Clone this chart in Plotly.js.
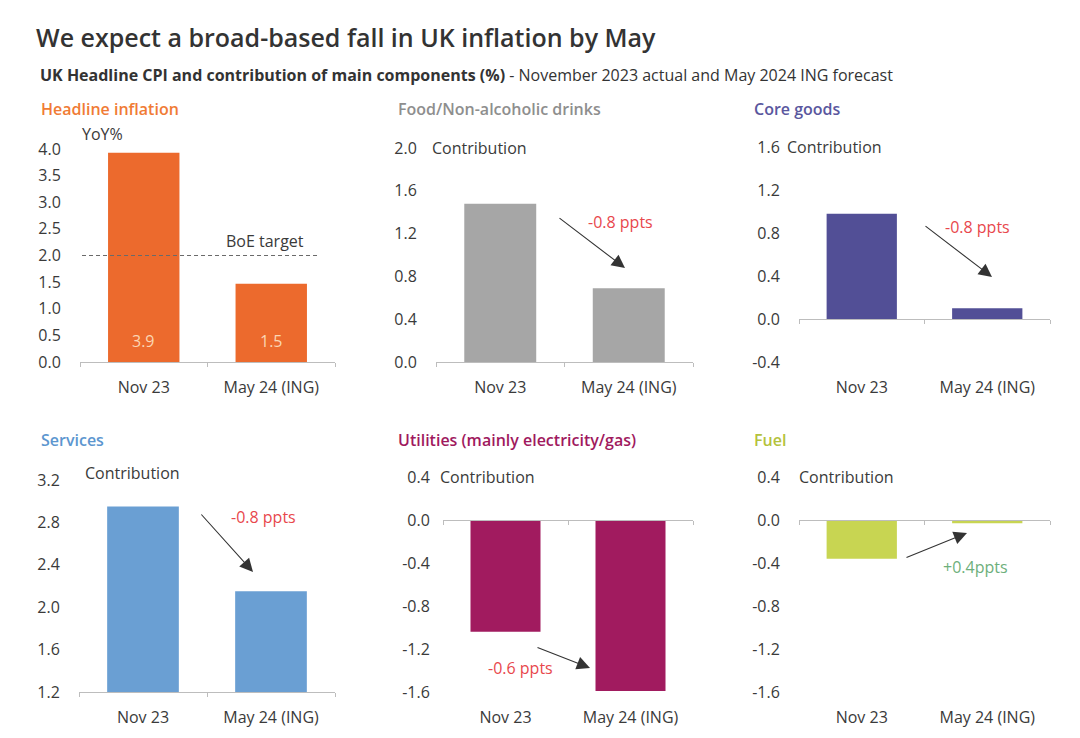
<!DOCTYPE html>
<html><head><meta charset="utf-8">
<script src="https://cdn.plot.ly/plotly-3.0.1.min.js"></script>
<style>html,body{margin:0;padding:0;background:#fff}#chart{width:1080px;height:738px}</style>
</head><body><div id="chart"></div>
<script>
// ---- data ----
const categories = ['Nov 23', 'May 24 (ING)'];
const headline = [3.93, 1.47];
const food = [1.48, 0.69];
const coreGoods = [0.98, 0.10];
const services = [2.95, 2.15];
const utilities = [-1.04, -1.59];
const fuel = [-0.36, -0.03];
const boeTarget = 2.0;
const panelTitles = ['Headline inflation', 'Food/Non-alcoholic drinks', 'Core goods', 'Services', 'Utilities (mainly electricity/gas)', 'Fuel'];
const changeLabels = ['-0.8 ppts', '-0.8 ppts', '-0.8 ppts', '-0.6 ppts', '+0.4ppts'];

// ---- layout helpers ----
const W = 1080, H = 738;
const PX = x => x / W, PY = y => 1 - y / H;
const FONT = '"Open Sans", "Noto Sans", sans-serif';
const TXT = '#3a3a3a';

const panels = [
  {values: headline, bar: '#EC6A2D', tcol: '#F07B35', xd: [80, 335], yd: [149, 362], range: [0, 4], dtick: 0.5, cross: 0, tx: 39, ty: 109, unit: 'YoY%', ux: 80, uy: 134, standoff: 15},
  {values: food, bar: '#A6A6A6', tcol: '#8E8E8E', xd: [436, 693], yd: [148, 362], range: [0, 2], dtick: 0.4, cross: 0, tx: 396, ty: 109, unit: 'Contribution', ux: 430, uy: 148, standoff: 15},
  {values: coreGoods, bar: '#524F96', tcol: '#5A579E', xd: [799, 1050], yd: [147, 362], range: [-0.4, 1.6], dtick: 0.4, cross: 0, tx: 752, ty: 109, unit: 'Contribution', ux: 785, uy: 147, standoff: 15},
  {values: services, bar: '#6A9FD3', tcol: '#5C96CF', xd: [79, 335], yd: [480, 692], range: [1.2, 3.2], dtick: 0.4, cross: 1.2, tx: 39, ty: 440, unit: 'Contribution', ux: 83, uy: 473, standoff: 15},
  {values: utilities, bar: '#A11B5F', tcol: '#A0195E', xd: [443, 693], yd: [477, 692], range: [-1.6, 0.4], dtick: 0.4, cross: 0, tx: 396, ty: 440, unit: 'Contribution', ux: 438, uy: 477, standoff: 9},
  {values: fuel, bar: '#C8D552', tcol: '#B4C23C', xd: [799, 1050], yd: [477, 692], range: [-1.6, 0.4], dtick: 0.4, cross: 0, tx: 752, ty: 440, unit: 'Contribution', ux: 797, uy: 477, standoff: 15}
];

const arrows = [
  {head: [625, 268], tail: [558, 217], label: [620, 222], color: '#E8474C'},
  {head: [992, 277], tail: [924, 225], label: [977, 227], color: '#E8474C'},
  {head: [253, 572], tail: [200, 513], label: [263, 517], color: '#E8474C'},
  {head: [590, 668], tail: [536, 647], label: [520, 668], color: '#E8474C'},
  {head: [967, 533], tail: [905, 558], label: [975, 567], color: '#6DAF7B'}
];

const data = [];
const annotations = [];
const shapes = [];
const layout = {
  width: W, height: H,
  margin: {l: 0, r: 0, t: 0, b: 0},
  paper_bgcolor: '#fff', plot_bgcolor: 'rgba(0,0,0,0)',
  bargap: 0.44,
  showlegend: false,
  font: {family: FONT, color: TXT, size: 16},
  title: {
    text: 'We expect a broad-based fall in UK inflation by May',
    x: PX(36), xref: 'paper', xanchor: 'left',
    y: PY(38), yref: 'paper', yanchor: 'middle',
    font: {family: FONT, size: 25, color: '#333', weight: 600}
  }
};

function tickList(r, d) {
  const vals = [];
  const steps = Math.round((r[1] - r[0]) / d);
  for (let k = 0; k <= steps; k++) vals.push(+(r[0] + k * d).toFixed(4));
  return vals;
}

const eps = 1e-6;
panels.forEach((p, i) => {
  const n = i + 1;
  const sfx = n === 1 ? '' : String(n);
  const xa = 'x' + sfx, ya = 'y' + sfx;
  const yDom = [PY(p.yd[1]), PY(p.yd[0])];
  const tv = tickList(p.range, p.dtick);
  data.push({type: 'bar', x: categories, y: p.values, xaxis: xa, yaxis: ya,
    marker: {color: p.bar, line: {width: 0}}, hoverinfo: 'skip', showlegend: false});
  layout['xaxis' + sfx] = {
    domain: [PX(p.xd[0]), PX(p.xd[1])], anchor: ya, type: 'category',
    categoryorder: 'array', categoryarray: categories, range: [-0.5, 1.5],
    showline: false, showgrid: false, zeroline: false,
    ticks: 'outside', ticklen: 11, tickcolor: 'rgba(0,0,0,0)',
    tickfont: {family: FONT, size: 16, color: TXT}, fixedrange: true
  };
  layout['yaxis' + sfx] = {
    domain: yDom, anchor: xa,
    range: [p.range[0] - eps, p.range[1] + eps],
    tickmode: 'array', tickvals: tv, ticktext: tv.map(v => v.toFixed(1)),
    showgrid: false, zeroline: false, showline: false,
    ticks: 'outside', ticklen: p.standoff, tickcolor: 'rgba(0,0,0,0)',
    tickfont: {family: FONT, size: 16, color: TXT}, fixedrange: true
  };
  // axis line crossing at p.cross with boundary tick marks
  const on = n + 6;
  const pos = yDom[0] + (p.cross - p.range[0]) / (p.range[1] - p.range[0]) * (yDom[1] - yDom[0]);
  layout['xaxis' + on] = {
    overlaying: xa, anchor: 'free', position: pos, type: 'linear', range: [-0.5, 1.5],
    tickmode: 'array', tickvals: [-0.5, 0.5, 1.5], ticks: 'outside', ticklen: 4,
    tickcolor: '#BDBDBD', tickwidth: 1, showticklabels: false,
    showline: true, linecolor: '#BDBDBD', linewidth: 1.2, showgrid: false, zeroline: false, fixedrange: true
  };
  data.push({type: 'scatter', mode: 'markers', x: [], y: [], xaxis: 'x' + on, yaxis: ya, hoverinfo: 'skip', showlegend: false});

  // panel title
  annotations.push({text: panelTitles[i], xref: 'paper', yref: 'paper', x: PX(p.tx), y: PY(p.ty),
    xanchor: 'left', yanchor: 'middle', showarrow: false,
    font: {family: FONT, size: 16, color: p.tcol, weight: 600}});
  // unit label
  annotations.push({text: p.unit, xref: 'paper', yref: 'paper', x: PX(p.ux), y: PY(p.uy),
    xanchor: 'left', yanchor: 'middle', showarrow: false, font: {family: FONT, size: 16, color: TXT}});
});

// headline value labels inside bars
headline.forEach((v, i) => {
  annotations.push({text: v.toFixed(1), xref: 'x', yref: 'y', x: categories[i], y: 0,
    yanchor: 'middle', yshift: 21, showarrow: false, font: {family: FONT, size: 16, color: '#FBD6B4'}});
});

// BoE target
shapes.push({type: 'line', xref: 'x', yref: 'y', x0: -0.594, x1: 1.36, y0: boeTarget, y1: boeTarget,
  line: {color: '#6a6a6a', width: 1, dash: '4px,3px'}, layer: 'above'});
annotations.push({text: 'BoE target', xref: 'x', yref: 'y', x: 0.95, y: boeTarget, yshift: 14,
  showarrow: false, font: {family: FONT, size: 16, color: TXT}});

// change arrows + labels
arrows.forEach((a, i) => {
  annotations.push({text: '', xref: 'paper', yref: 'paper', x: PX(a.head[0]), y: PY(a.head[1]),
    axref: 'pixel', ayref: 'pixel', ax: a.tail[0] - a.head[0], ay: a.tail[1] - a.head[1],
    showarrow: true, arrowhead: 2, arrowsize: 2.4, arrowwidth: 1.1, arrowcolor: '#333', standoff: 0});
  annotations.push({text: changeLabels[i], xref: 'paper', yref: 'paper', x: PX(a.label[0]), y: PY(a.label[1]),
    xanchor: 'center', yanchor: 'middle', showarrow: false, font: {family: FONT, size: 16, color: a.color}});
});

// subtitle
annotations.push({text: '<b>UK Headline CPI and contribution of main components (%)</b> - November 2023 actual and May 2024 ING forecast',
  xref: 'paper', yref: 'paper', x: PX(38), y: PY(75), xanchor: 'left', yanchor: 'middle', showarrow: false,
  font: {family: FONT, size: 16, color: '#333'}});

layout.annotations = annotations;
layout.shapes = shapes;

Plotly.newPlot('chart', data, layout, {displayModeBar: false, staticPlot: true});
</script>
</body></html>
